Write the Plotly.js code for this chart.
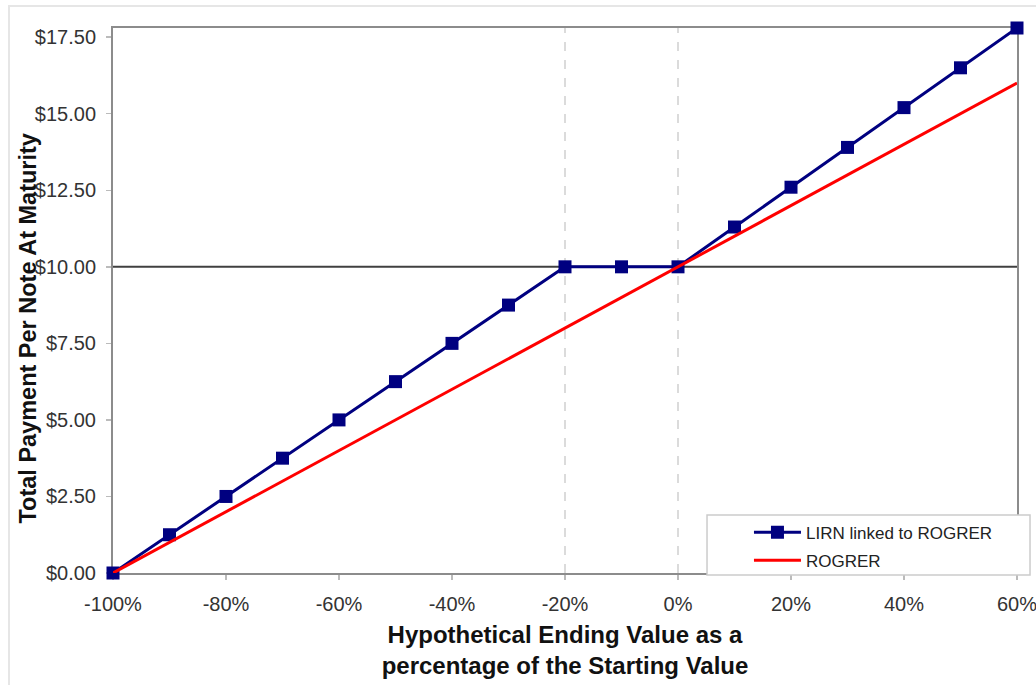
<!DOCTYPE html>
<html>
<head>
<meta charset="utf-8">
<script src="https://cdn.plot.ly/plotly-3.0.1.min.js"></script>
<style>
  html, body { margin: 0; padding: 0; background: #ffffff; }
  #frame { position: absolute; left: 8px; top: 5px; width: 1100px; height: 800px;
           border-top: 2px solid #e6e6e6; border-left: 2px solid #e6e6e6; }
  #chart { position: absolute; left: 0; top: 0; width: 1036px; height: 685px; }
</style>
</head>
<body>
<div id="frame"></div>
<div id="chart"></div>
<script>
// Hypothetical ending value (fraction of starting value)
const endingValues = [-1.0, -0.9, -0.8, -0.7, -0.6, -0.5, -0.4, -0.3, -0.2, -0.1, 0.0, 0.1, 0.2, 0.3, 0.4, 0.5, 0.6];
// Total payment per note at maturity
const lirnPayment = [0.00, 1.25, 2.50, 3.75, 5.00, 6.25, 7.50, 8.75, 10.00, 10.00, 10.00, 11.30, 12.60, 13.90, 15.20, 16.50, 17.80];
const rogrerPayment = [0, 1, 2, 3, 4, 5, 6, 7, 8, 9, 10, 11, 12, 13, 14, 15, 16];
const seriesNames = ['LIRN linked to ROGRER', 'ROGRER'];
// x-axis ticks
const xTickVals = [-1.0, -0.8, -0.6, -0.4, -0.2, 0.0, 0.2, 0.4, 0.6];
const xTickText = ['-100%', '-80%', '-60%', '-40%', '-20%', '0%', '20%', '40%', '60%'];
const dashedRefX = [-0.2, 0.0];
const principal = 10;
const xTitle = 'Hypothetical Ending Value as a<br>percentage of the Starting Value';
const yTitle = 'Total Payment Per Note At Maturity';

const FONT = 'Liberation Sans, Arial, sans-serif';
const tickFont = { family: FONT, size: 20, color: '#333333' };
const xTitleFont = { family: FONT, size: 24, color: '#111111', weight: 'bold' };
const yTitleFont = { family: FONT, size: 23.5, color: '#111111', weight: 'bold' };

const traces = [
  {
    x: endingValues, y: lirnPayment, name: seriesNames[0], type: 'scatter', mode: 'lines+markers',
    line: { color: '#000080', width: 3 },
    marker: { symbol: 'square', size: 13, color: '#000080' },
    cliponaxis: false, legendgroup: 'a'
  },
  {
    x: endingValues, y: rogrerPayment, name: seriesNames[1], type: 'scatter', mode: 'lines',
    line: { color: '#ff0000', width: 3 },
    cliponaxis: false, legendgroup: 'b'
  }
];

const shapes = [];
dashedRefX.forEach(v => shapes.push({
  type: 'line', xref: 'x', yref: 'paper', x0: v, x1: v, y0: 0, y1: 1,
  line: { color: '#d0d0d0', width: 1.5, dash: 'dash' }, layer: 'below'
}));
shapes.push({
  type: 'line', xref: 'paper', yref: 'y', x0: 0, x1: 1, y0: principal, y1: principal,
  line: { color: '#404040', width: 2 }, layer: 'below'
});
// legend box
shapes.push({
  type: 'rect', xref: 'paper', yref: 'paper', x0: 0.6571, x1: 1.0144, y0: -0.0037, y1: 0.1064,
  fillcolor: '#ffffff', line: { color: '#cccccc', width: 1.5 }, layer: 'above'
});

const layout = {
  width: 1036, height: 685,
  margin: { l: 113, r: 19, t: 28, b: 112 },
  paper_bgcolor: 'rgba(0,0,0,0)', plot_bgcolor: '#ffffff',
  showlegend: true,
  legend: {
    x: 0.7035, y: 0.107, xanchor: 'left', yanchor: 'top',
    bgcolor: 'rgba(0,0,0,0)', borderwidth: 0,
    font: { family: FONT, size: 17, color: '#222222' },
    itemwidth: 47, tracegroupgap: 3
  },
  xaxis: {
    range: [-1, 0.6], tickmode: 'array', tickvals: xTickVals, ticktext: xTickText,
    showgrid: false, zeroline: false, layer: 'below traces',
    showline: true, mirror: true, linecolor: '#8c8c8c', linewidth: 2,
    ticks: 'outside', ticklen: 5, tickcolor: '#bbbbbb', tickwidth: 1.5,
    ticklabelstandoff: 7, ticklabeloverflow: 'allow',
    tickfont: tickFont,
    title: { text: xTitle, font: xTitleFont, standoff: 12 }
  },
  yaxis: {
    range: [0, 17.8], tick0: 0, dtick: 2.5, tickprefix: '$', tickformat: ',.2f',
    showgrid: false, zeroline: false, layer: 'below traces',
    showline: true, mirror: true, linecolor: '#8c8c8c', linewidth: 2,
    ticks: 'outside', ticklen: 5, tickcolor: '#bbbbbb', tickwidth: 1.5,
    ticklabelstandoff: 6, ticklabeloverflow: 'allow',
    tickfont: tickFont
  },
  annotations: [{
    text: yTitle, xref: 'paper', yref: 'paper', x: -0.0951, y: 0.4486,
    xanchor: 'center', yanchor: 'middle', textangle: -90, showarrow: false,
    font: yTitleFont
  }],
  shapes: shapes
};

Plotly.newPlot('chart', traces, layout, { displayModeBar: false, staticPlot: true });
</script>
</body>
</html>
